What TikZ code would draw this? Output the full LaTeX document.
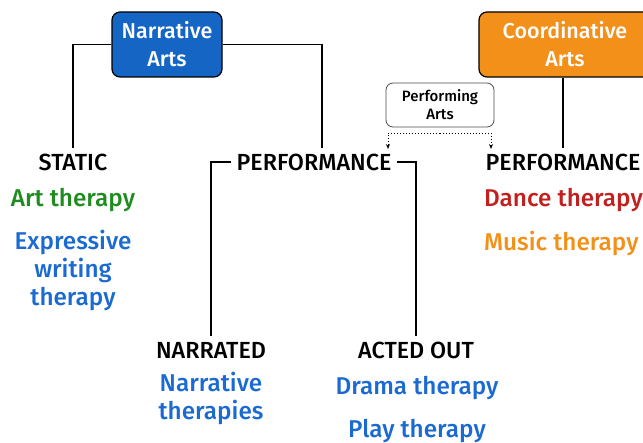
\documentclass[tikz,border=0pt]{standalone}
\usepackage{fontspec}
\setmainfont{Fira Sans}[UprightFont=* Medium, BoldFont=* SemiBold]
\usetikzlibrary{arrows.meta}
\definecolor{nblue}{HTML}{1565C4}
\definecolor{tblue}{HTML}{1A6AD2}
\definecolor{tgreen}{HTML}{1F8C1F}
\definecolor{tred}{HTML}{C2201E}
\definecolor{torange}{HTML}{F39019}
\tikzset{
  x=1pt,y=-1pt,
  catbox/.style={draw=black,line width=1.2,rounded corners=8,text=white,align=center,
     font=\fontsize{21.5}{28}\selectfont},
  label/.style={inner sep=0,outer sep=6,font=\fontsize{23.3}{28}\selectfont,text=black},
  ther/.style={inner sep=0,font=\fontsize{24.3}{28}\selectfont,align=center},
  conn/.style={line width=1.6,black},
  dotarrow/.style={dotted,line width=1,-{Stealth[length=5pt,width=4pt]}}
}
\begin{document}
\begin{tikzpicture}
\useasboundingbox (0,0) rectangle (643,443);
\clip (0,0) rectangle (643,443);
% category boxes
\node[catbox,fill=nblue,minimum width=110,minimum height=65] (na) at (167,44.5) {Narrative\\Arts};
\node[catbox,fill=torange,minimum width=180,minimum height=65] (ca) at (569,44.5) {\hspace*{-8pt}Coordinative\\\hspace*{-8pt}Arts};
\node[draw=black!70,line width=0.8,rounded corners=7,fill=white,minimum width=108,minimum height=44,
      align=center,font=\fontsize{15}{18}\selectfont] (pa) at (440,105) {Performing\\Arts};
% labels
\node[label] (static) at (73,162) {STATIC};
\node[label] (perf1) at (314,162) {PERFORMANCE};
\node[label] (perf2) at (563,162) {PERFORMANCE};
\node[label] (narr) at (211,350) {NARRATED};
\node[label] (acted) at (416,350) {ACTED OUT};
% therapies
\node[ther,text=tgreen] (art) at (73,200) {Art therapy};
\node[ther,text=tblue] (expr) at (73,270) {Expressive\\writing\\therapy};
\node[ther,text=tred,anchor=west] (dance) at (484,200) {Dance therapy};
\node[ther,text=torange,anchor=west] (music) at (484,243) {Music therapy};
\node[ther,text=tblue] (narth) at (211,398) {Narrative\\therapies};
\node[ther,text=tblue] (drama) at (417,388) {Drama therapy};
\node[ther,text=tblue] (play) at (417,431) {Play therapy};
% connectors
\draw[conn] (na.west) -| (static.north);
\draw[conn] (na.east) -| ([xshift=8]perf1.north);
\draw[conn] (perf1.west) -| (narr.north);
\draw[conn] (perf1.east) -| (acted.north);
\draw[conn] (perf2.north |- ca.south) -- (perf2.north);
\coordinate (dmid) at ([yshift=-6]pa.south);
\coordinate (d1) at (388,149);
\coordinate (d2) at (491,149);
\draw[dotarrow] (dmid) -| (d1);
\draw[dotarrow] (dmid) -| (d2);
\end{tikzpicture}
\end{document}
